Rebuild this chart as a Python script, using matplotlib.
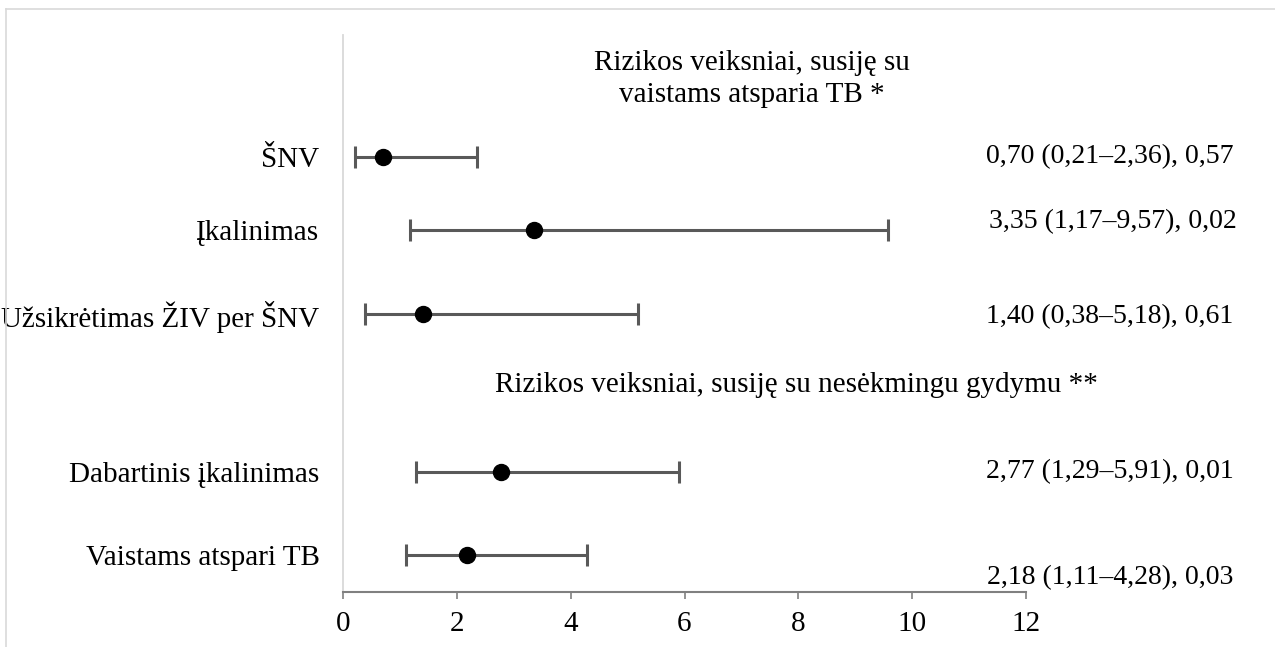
import matplotlib
matplotlib.use("Agg")
import matplotlib.pyplot as plt
from matplotlib.lines import Line2D

plt.rcParams['font.family'] = ['Liberation Serif', 'DejaVu Serif']

labels = ["ŠNV", "Įkalinimas", "Užsikrėtimas ŽIV per ŠNV",
          "Dabartinis įkalinimas", "Vaistams atspari TB"]
or_vals = [0.70, 3.35, 1.40, 2.77, 2.18]
ci_low = [0.21, 1.17, 0.38, 1.29, 1.11]
ci_high = [2.36, 9.57, 5.18, 5.91, 4.28]
annot = ["0,70 (0,21–2,36), 0,57", "3,35 (1,17–9,57), 0,02",
         "1,40 (0,38–5,18), 0,61", "2,77 (1,29–5,91), 0,01",
         "2,18 (1,11–4,28), 0,03"]
x_ticks = [0, 2, 4, 6, 8, 10, 12]
heading1 = "Rizikos veiksniai, susiję su\nvaistams atsparia TB *"
heading2 = "Rizikos veiksniai, susiję su nesėkmingu gydymu **"

# layout (pixel-like row positions)
row_y = [157, 230, 314, 472, 555]
annot_dy = [0, -8, 3, 0, 23]
annot_dx = [0, 3, 0, 0, 0]

W, H = 1275, 647
fig = plt.figure(figsize=(W / 100, H / 100), dpi=100)
ax = fig.add_axes([343 / W, 1 - 592 / H, (1026 - 343) / W, (592 - 35) / H])
ax.set_xlim(0, 12)
ax.set_ylim(592, 35)

err_lo = [o - l for o, l in zip(or_vals, ci_low)]
err_hi = [h - o for o, h in zip(or_vals, ci_high)]
ax.errorbar(or_vals, row_y, xerr=[err_lo, err_hi], fmt='o', color='black',
            markersize=11.5, ecolor='#595959', elinewidth=2.2,
            capsize=8, capthick=2.2, zorder=3)

ax.set_yticks(row_y)
ax.set_yticklabels(labels, fontsize=21)
ax.tick_params(axis='y', length=0, pad=17)
ax.set_xticks(x_ticks)
ax.set_xticklabels([str(t) for t in x_ticks], fontsize=21)
ax.tick_params(axis='x', length=5, width=1.2, color='#808080', pad=9)

for s in ['top', 'right']:
    ax.spines[s].set_visible(False)
ax.spines['left'].set_color('#d9d9d9')
ax.spines['left'].set_linewidth(1.3)
ax.spines['bottom'].set_color('#808080')
ax.spines['bottom'].set_linewidth(1.5)

for y, dy, dx, t in zip(row_y, annot_dy, annot_dx, annot):
    ax.text((1110 + dx) / W, 1 - (y + dy) / H, t, transform=fig.transFigure,
            ha='center', va='center', fontsize=20)

fig.text(752 / W, 1 - 79 / H, heading1, ha='center', va='center',
         fontsize=21, linespacing=1.3)
fig.text(796 / W, 1 - 385 / H, heading2, ha='center', va='center', fontsize=21)

# outer frame (top and left visible)
fig.add_artist(Line2D([6 / W, 1.0], [1 - 9 / H, 1 - 9 / H],
                      transform=fig.transFigure, color='#d9d9d9', lw=1.2))
fig.add_artist(Line2D([6 / W, 6 / W], [0, 1 - 9 / H],
                      transform=fig.transFigure, color='#d9d9d9', lw=1.2))

fig.savefig("out.png", dpi=100)
